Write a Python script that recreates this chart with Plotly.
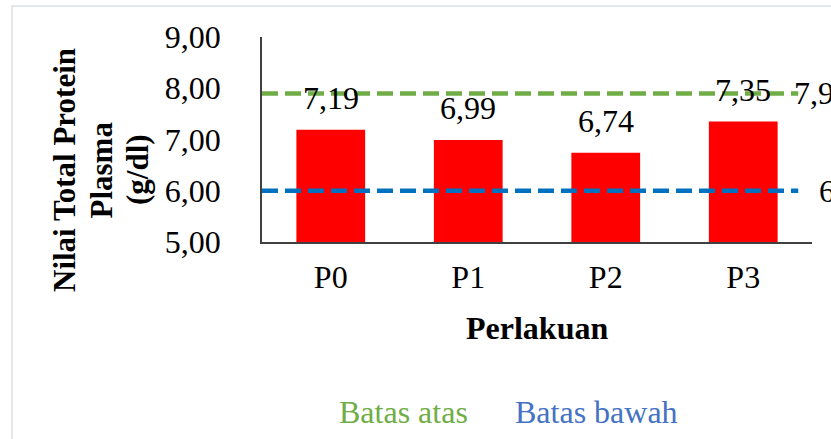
import plotly.graph_objects as go

categories = ["P0", "P1", "P2", "P3"]
values = [7.19, 6.99, 6.74, 7.35]
value_labels = ["7,19", "6,99", "6,74", "7,35"]
batas_atas = 7.90
batas_bawah = 6.00
line_label_atas = "7,9"
line_label_bawah = "6"
y_ticks = [5, 6, 7, 8, 9]
y_tick_labels = ["5,00", "6,00", "7,00", "8,00", "9,00"]

FONT = "Liberation Serif, Times New Roman, serif"
FS = 32
idx = list(range(len(categories)))
line_x = [idx[0] - 0.5, idx[-1] + 0.4]

fig = go.Figure()
fig.add_trace(go.Bar(x=idx, y=values, width=0.5, marker=dict(color="#FF0000", line=dict(width=0)),
                     showlegend=False))
fig.add_trace(go.Scatter(x=line_x, y=[batas_atas] * 2, mode="lines",
                         line=dict(color="#70AD47", width=4.5, dash="16px,7px"), showlegend=False))
fig.add_trace(go.Scatter(x=line_x, y=[batas_bawah] * 2, mode="lines",
                         line=dict(color="#0070C0", width=4.5, dash="16px,7px"), showlegend=False))

ann = []
for xi, v, t in zip(idx, values, value_labels):
    ann.append(dict(x=xi, y=v, text=t, showarrow=False, yanchor="bottom", yshift=12,
                    font=dict(family=FONT, size=FS, color="black")))
ann.append(dict(x=line_x[1], y=batas_atas, text=line_label_atas, showarrow=False, xanchor="left",
                xshift=-6, font=dict(family=FONT, size=FS, color="black")))
ann.append(dict(x=line_x[1], y=batas_bawah, text=line_label_bawah, showarrow=False, xanchor="left",
                xshift=19, font=dict(family=FONT, size=FS, color="black")))
# axis titles
for i, t in enumerate(["Nilai Total Protein", "Plasma", "(g/dl)"]):
    ann.append(dict(xref="paper", yref="paper", x=(64 + 36.5 * i - 262) / 550, y=(242 - 170) / 205,
                    text="<b>%s</b>" % t, showarrow=False, textangle=-90, xanchor="center", yanchor="middle",
                    font=dict(family=FONT, size=31, color="black")))
ann.append(dict(xref="paper", yref="paper", x=0.5, y=(242 - 328) / 205, text="<b>Perlakuan</b>",
                showarrow=False, xanchor="center", yanchor="middle",
                font=dict(family=FONT, size=FS, color="black")))
# legend texts
ann.append(dict(xref="paper", yref="paper", x=(337 - 262) / 550, y=(242 - 412) / 205, text="Batas atas",
                showarrow=False, xanchor="left", yanchor="middle",
                font=dict(family=FONT, size=FS, color="#70AD47")))
ann.append(dict(xref="paper", yref="paper", x=(513 - 262) / 550, y=(242 - 412) / 205, text="Batas bawah",
                showarrow=False, xanchor="left", yanchor="middle",
                font=dict(family=FONT, size=FS, color="#4472C4")))

fig.update_layout(
    width=831, height=439,
    margin=dict(l=262, r=19, t=37, b=197),
    paper_bgcolor="white", plot_bgcolor="white",
    separators=", ",
    font=dict(family=FONT, size=FS, color="black"),
    annotations=ann,
    shapes=[dict(type="rect", xref="paper", yref="paper", x0=(12 - 262) / 550, x1=(850 - 262) / 550,
                 y0=(242 - 460) / 205, y1=(242 - 6) / 205, line=dict(color="#E3E6EA", width=2),
                 fillcolor="rgba(0,0,0,0)", layer="below")],
    xaxis=dict(range=[-0.5, len(categories) - 0.5], tickmode="array", tickvals=idx, ticktext=categories,
               showgrid=False, zeroline=False, showline=True, linecolor="#404040", linewidth=1.5,
               ticks="", ticklabelstandoff=6, tickfont=dict(family=FONT, size=FS, color="black")),
    yaxis=dict(range=[5, 9], tickmode="array", tickvals=y_ticks, ticktext=y_tick_labels,
               showgrid=False, zeroline=False, showline=True, linecolor="#404040", linewidth=1.5,
               ticks="", ticklabelstandoff=33, tickfont=dict(family=FONT, size=FS, color="black")),
)
fig.write_html("out.html", config={"displayModeBar": False},
               post_script="document.body.style.margin='0px';document.body.style.overflow='hidden';")
